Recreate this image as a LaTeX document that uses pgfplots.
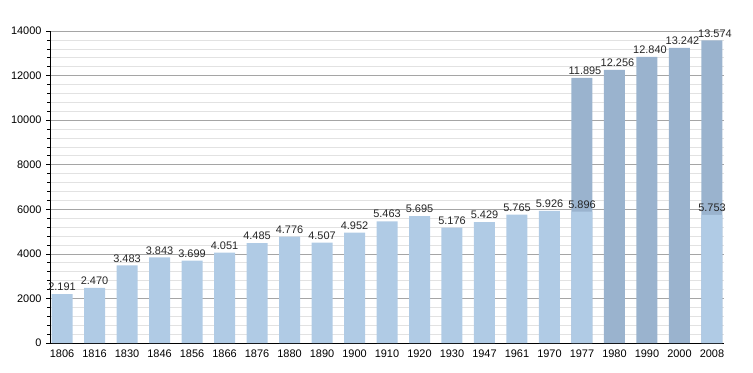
\documentclass[border=0pt]{standalone}
\usepackage{pgfplots}
\pgfplotsset{compat=1.18}
\usepackage{fontspec}
\setmainfont{Liberation Sans}
\definecolor{lightbar}{RGB}{176,203,229}
\definecolor{darkbar}{RGB}{154,179,206}
\definecolor{majgrid}{RGB}{165,165,165}
\definecolor{mingrid}{RGB}{226,226,226}
\begin{document}
\begin{tikzpicture}
\path[use as bounding box] (0,0) rectangle (753bp,373bp);
\begin{axis}[
  at={(50bp,30bp)}, anchor=south west,
  scale only axis, width=674bp, height=312bp,
  xmin=-0.37, xmax=20.37, ymin=0, ymax=14000,
  axis x line*=bottom, axis y line*=left,
  axis line style={black, line width=0.8pt},
  xtick={0,...,20},
  xticklabels={1806,1816,1830,1846,1856,1866,1876,1880,1890,1900,1910,1920,1930,1947,1961,1970,1977,1980,1990,2000,2008},
  x tick style={draw=none},
  ytick={0,2000,...,14000},
  minor y tick num=4,
  tick align=outside,
  major tick length=4bp, minor tick length=3bp,
  y tick style={black, line width=0.6pt},
  ymajorgrids, yminorgrids,
  major grid style={majgrid, line width=0.6pt},
  minor grid style={mingrid, line width=0.6pt},
  scaled y ticks=false,
  yticklabel style={/pgf/number format/1000 sep={}, font=\fontsize{11}{13}\selectfont, xshift=-1bp},
  xticklabel style={font=\fontsize{11}{13}\selectfont, yshift=1bp},
  /pgf/number format/assume math mode=true,
  ybar, bar width=21bp, bar shift=0pt,
  nodes near coords={\pgfmathprintnumber[1000 sep={.}]{\pgfplotspointmeta}},
  every node near coord/.append style={font=\fontsize{11}{13}\selectfont, text=black!85, inner sep=3bp},
  clip=false,
]
\addplot[fill=darkbar, draw=none, every node near coord/.append style={xshift=3bp}] coordinates {
(16,11895) (17,12256) (18,12840) (19,13242) (20,13574)};
\addplot[fill=lightbar, draw=none] coordinates {
(0,2191) (1,2470) (2,3483) (3,3843) (4,3699) (5,4051) (6,4485) (7,4776)
(8,4507) (9,4952) (10,5463) (11,5695) (12,5176) (13,5429) (14,5765) (15,5926)
(16,5896) (20,5753)};
\end{axis}
\end{tikzpicture}
\end{document}
